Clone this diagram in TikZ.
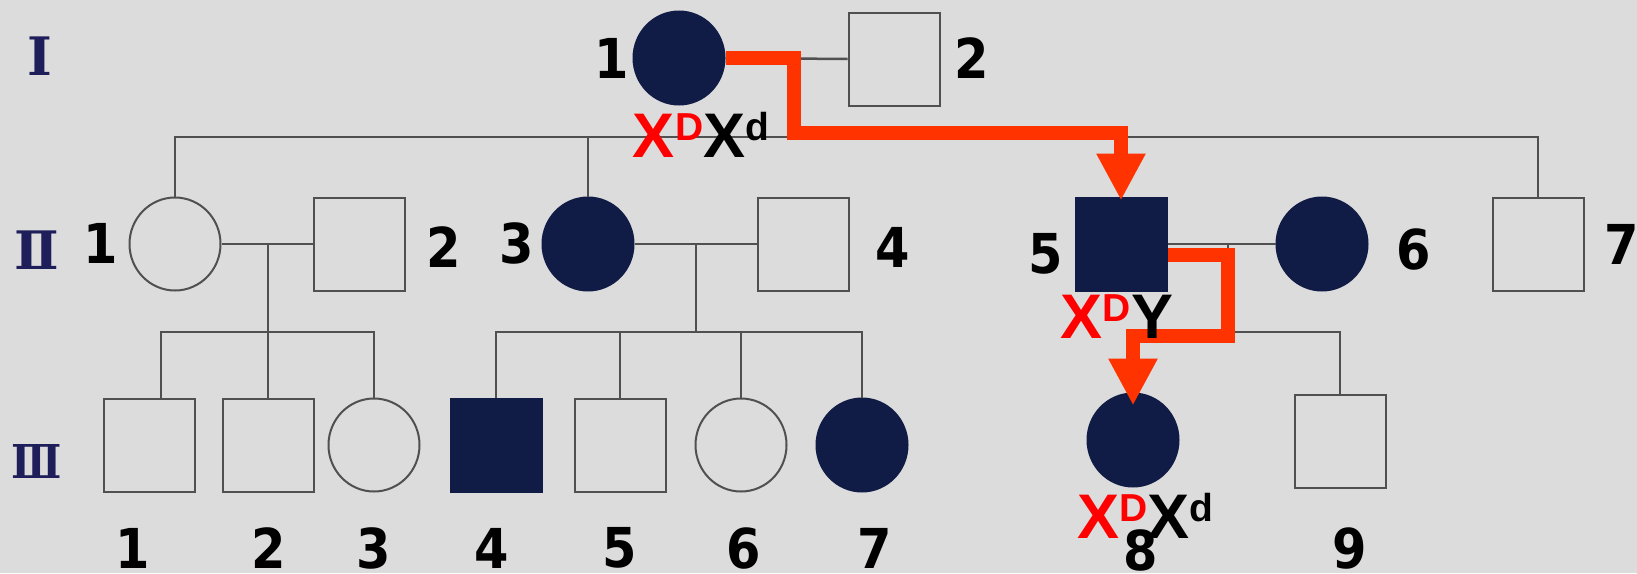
\documentclass[tikz,border=0pt]{standalone}
\usepackage{fontspec}
\usepackage{xcolor}
\usepackage{tikz}
\usetikzlibrary{shapes.geometric,arrows.meta,calc,positioning}

\newfontfamily\numfont[FakeStretch=0.9]{DejaVu Sans}
\newfontfamily\genfont{Liberation Sans}
\newfontfamily\romfont{DejaVu Serif}

\definecolor{bggray}{RGB}{220,220,220}
\definecolor{linegray}{RGB}{80,80,80}
\definecolor{navy}{RGB}{16,27,70}
\definecolor{tracered}{RGB}{255,51,0}
\definecolor{genred}{RGB}{255,0,0}
\definecolor{romblue}{RGB}{30,30,90}

\newcommand{\xsup}[1]{\raisebox{17pt}{\fontsize{39}{39}\selectfont #1}}

\begin{document}
\begin{tikzpicture}[
    x=1pt, y=-1pt,
    male/.style={rectangle, draw=linegray, line width=2pt, minimum width=91pt, minimum height=93pt, inner sep=0pt},
    female/.style={ellipse, draw=linegray, line width=2pt, minimum width=91pt, minimum height=93pt, inner sep=0pt},
    affected/.style={fill=navy, draw=navy},
    num/.style={font=\numfont\bfseries\fontsize{55}{55}\selectfont, inner sep=0pt},
    roman/.style={font=\romfont\bfseries\fontsize{53}{53}\selectfont, text=romblue, inner sep=0pt},
    geno/.style={font=\genfont\bfseries\fontsize{63}{63}\selectfont, inner sep=0pt, anchor=base},
    rel/.style={draw=linegray, line width=2.5pt},
    trace/.style={draw=tracered, line width=14pt, -{Triangle[width=46pt,length=47pt]}}
]

\fill[bggray] (0,0) rectangle (1637,573);
\useasboundingbox (0,0) rectangle (1637,573);

% Generations
\node[roman] (genI) at (40,56) {Ⅰ};
\node[roman] (genII) at (37,250) {Ⅱ};
\node[roman] (genIII) at (37,461) {\scalebox{0.78}[0.88]{Ⅲ}};

% Generation I
\node[female, affected] (I1) at (679,58) {};
\node[male] (I2) at (894,59) {};

% Generation II
\node[female] (II1) at (175,244) {};
\node[male] (II2) at (359,244) {};
\node[female, affected] (II3) at (588,244) {};
\node[male] (II4) at (803,244) {};
\node[male, affected] (II5) at (1121,244) {};
\node[female, affected] (II6) at (1322,244) {};
\node[male] (II7) at (1538,244) {};

% Generation III
\node[male] (III1) at (149,445) {};
\node[male] (III2) at (268,445) {};
\node[female] (III3) at (374,445) {};
\node[male, affected] (III4) at (496,445) {};
\node[male] (III5) at (620,445) {};
\node[female] (III6) at (741,445) {};
\node[female, affected] (III7) at (862,445) {};
\node[female, affected] (III8) at (1133,440) {};
\node[male] (III9) at (1340,441) {};

% Marriages and sibships
\coordinate (m1) at (794,58);
\coordinate (s1) at (794,137);
\coordinate (m2) at (268,245);
\coordinate (s2) at (268,332);
\coordinate (m3) at (696,245);
\coordinate (s3) at (696,332);
\coordinate (m4) at (1228,245);
\coordinate (s4) at (1228,332);

\draw[rel] (I1.east) -- (I2.west);
\draw[rel] (m1) -- (s1);
\draw[rel] (II1.north) |- (s1) -| (II7.north);
\draw[rel] (II3.north) |- (s1);
\draw[rel] (II5.north) |- (s1);

\draw[rel] (II1.east) -- (II2.west);
\draw[rel] (m2) -- (s2);
\draw[rel] ([xshift=12pt]III1.north) |- (s2) -| (III3.north);
\draw[rel] (III2.north) -- (s2);

\draw[rel] (II3.east) -- (II4.west);
\draw[rel] (m3) -- (s3);
\draw[rel] (III4.north) |- (s3) -| (III7.north);
\draw[rel] (III5.north) |- (s3);
\draw[rel] (III6.north) |- (s3);

\draw[rel] (II5.east) -- (II6.west);
\draw[rel] (m4) -- (s4);
\draw[rel] (III8.north) |- (s4) -| (III9.north);

% Numbers
\node[num] (nI1) at (612,58) {1};
\node[num] (nI2) at (972,58) {2};
\node[num] (nII1) at (101,243) {1};
\node[num] (nII2) at (444,247) {2};
\node[num] (nII3) at (517,243) {3};
\node[num] (nII4) at (893,247) {4};
\node[num] (nII5) at (1046,254) {5};
\node[num] (nII6) at (1414,250) {6};
\node[num] (nII7) at (1622,244) {7};
\node[num] (nIII1) at (133,548) {1};
\node[num] (nIII2) at (269,548) {2};
\node[num] (nIII3) at (374,548) {3};
\node[num] (nIII4) at (492,548) {4};
\node[num] (nIII5) at (620,548) {5};
\node[num] (nIII6) at (744,548) {6};
\node[num] (nIII7) at (875,548) {7};
\node[num] (nIII8) at (1141,550) {8};
\node[num] (nIII9) at (1350,548) {9};

% Inheritance path
\draw[trace] (I1.east) -- (m1) |- ($(II5.north)+(0,-64)$) -- ([yshift=-4pt]II5.north);
\draw[trace] ([yshift=-11pt]II5.east) -| ($(s4)+(0,4)$) -| ([yshift=-13pt]III8.north);

% Genotypes
\node[geno] (gI1) at (701,157) {{\color{genred}X\xsup{D}}X\xsup{d}};
\node[geno] (gII5) at (1117,338) {{\color{genred}X\xsup{D}}Y};
\node[geno] (gIII8) at (1145,538) {{\color{genred}X\xsup{D}}X\xsup{d}};

\end{tikzpicture}
\end{document}
